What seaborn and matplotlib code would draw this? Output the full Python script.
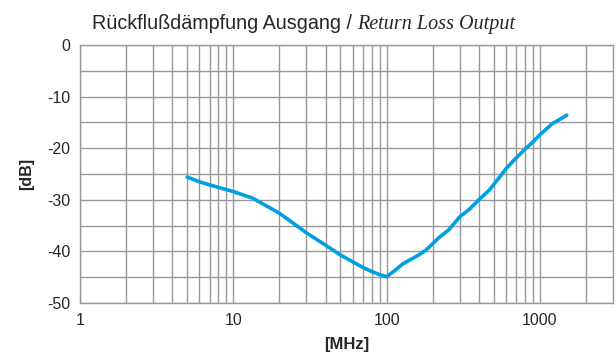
import matplotlib
matplotlib.use("Agg")
import matplotlib.pyplot as plt
import seaborn as sns
from matplotlib.ticker import FixedLocator, NullFormatter, MultipleLocator

# Return loss curve
freq_mhz = [5, 6, 7, 8, 10, 13.4, 20, 30, 40, 50, 60, 70, 80, 90, 100, 110,
            128, 164, 180, 200, 220, 255, 300, 345, 400, 465, 550, 600, 700,
            800, 900, 1000, 1200, 1500]
loss_db = [-25.6, -26.5, -27.1, -27.6, -28.4, -29.7, -32.6, -36.4, -38.8, -40.7,
           -42.0, -43.1, -43.9, -44.5, -44.9, -44.0, -42.4, -40.6, -39.8, -38.5,
           -37.3, -35.8, -33.3, -31.9, -30.0, -28.2, -25.5, -24.0, -21.9, -20.2,
           -18.8, -17.4, -15.3, -13.6]

x_major = [1, 10, 100, 1000]
x_labels = ["1", "10", "100", "1000"]
y_major = [0, -10, -20, -30, -40, -50]

grid_col = "#999999"
line_col = "#009FE3"

sns.set_style("white")
plt.rcParams["font.family"] = ["Liberation Sans", "DejaVu Sans"]
plt.rcParams["axes.unicode_minus"] = False

fig = plt.figure(figsize=(6.16, 3.56), dpi=100)
ax = fig.add_axes([80 / 616, 1 - 303 / 356, 533 / 616, 258 / 356])

sns.lineplot(x=freq_mhz, y=loss_db, ax=ax, color=line_col, linewidth=2.6)

ax.set_xscale("log")
ax.set_xlim(1, 3000)
ax.set_ylim(-50, 0)

ax.xaxis.set_major_locator(FixedLocator(x_major))
ax.set_xticklabels(x_labels)
minor = [m * d for d in [1, 10, 100, 1000] for m in range(2, 10) if m * d < 3000]
ax.xaxis.set_minor_locator(FixedLocator(minor))
ax.xaxis.set_minor_formatter(NullFormatter())
ax.yaxis.set_major_locator(FixedLocator(y_major))
ax.yaxis.set_minor_locator(MultipleLocator(5))

ax.grid(which="both", color=grid_col, linewidth=1.0)
ax.set_axisbelow(True)
for s in ax.spines.values():
    s.set_color(grid_col)
    s.set_linewidth(1.0)

ax.tick_params(axis="both", which="major", direction="out", length=4, width=1,
               color=grid_col, labelsize=11.5, pad=3)
ax.tick_params(axis="both", which="minor", length=0)

ax.set_xlabel("[MHz]", fontsize=12, fontweight="bold", labelpad=7)
ax.set_ylabel("[dB]", fontsize=11.5, fontweight="bold", labelpad=9)

# title in two fonts
t1 = fig.text(92 / 616, 1 - 29 / 356, "Rückflußdämpfung Ausgang / ",
              fontsize=14.2, family=["Liberation Sans", "DejaVu Sans"],
              ha="left", va="baseline")
fig.canvas.draw()
bb = t1.get_window_extent()
fig.text(bb.x1 / fig.bbox.width, 1 - 29 / 356, "Return Loss Output",
         fontsize=14.5, family=["Liberation Serif", "DejaVu Serif"], style="italic",
         ha="left", va="baseline")

fig.savefig("out.png", dpi=100)
